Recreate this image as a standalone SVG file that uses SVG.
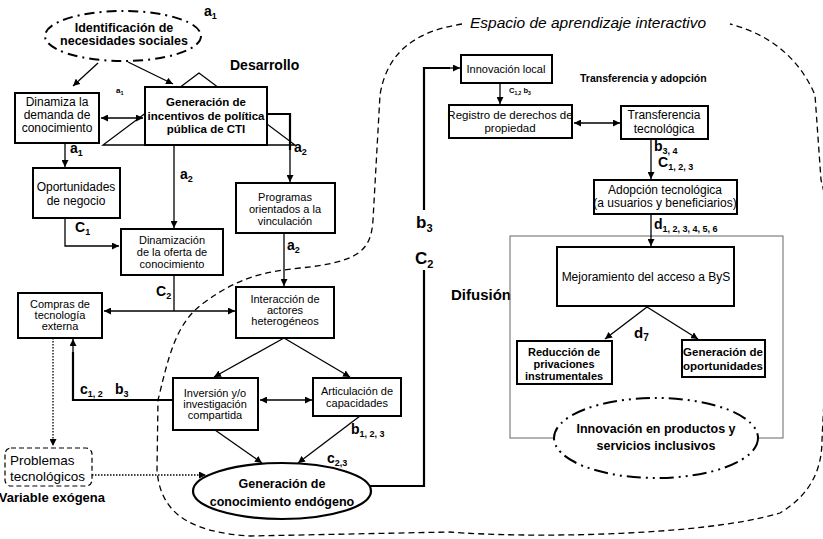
<svg xmlns="http://www.w3.org/2000/svg" width="823" height="539" viewBox="0 0 823 539">
<style>
text{font-family:"Liberation Sans",Arial,sans-serif;fill:#000}
.t{font-size:12px;text-anchor:middle}
.s{font-size:11px;text-anchor:middle}
.tb{font-size:11.5px;text-anchor:middle;font-weight:bold}
.lbl{font-size:14px;font-weight:bold}
.box{fill:#fff;stroke:#000;stroke-width:2}
.ln{stroke:#000;stroke-width:1.3;fill:none}
.thick{stroke:#000;stroke-width:2.2;fill:none}
.dot{stroke:#000;stroke-width:1.3;fill:none;stroke-dasharray:1.5,1.5}
</style>
<defs>
<marker id="ah" viewBox="0 0 8 8" refX="8" refY="4" markerWidth="7" markerHeight="7" markerUnits="userSpaceOnUse" orient="auto-start-reverse"><path d="M0,0 L8,4 L0,8 z" fill="#000"/></marker>
</defs>
<rect width="823" height="539" fill="#fff"/>

<!-- learning space boundary -->
<path d="M462 24 C425 30 388 45 380 95 L373 220 C371 250 360 262 300 268 C262 272 238 278 205 302 C175 322 168 360 158 400 L157 470 C160 510 185 532 250 536 L450 532 C520 538 700 537 780 513 C810 495 822 470 822 440 L826 360 L826 200 L821 180 L815 95 C800 60 772 35 730 24" fill="none" stroke="#000" stroke-width="1.3" stroke-dasharray="6,4"/>
<text x="470" y="28" style="font-size:15.5px;font-style:italic">Espacio de aprendizaje interactivo</text>

<!-- labels -->
<text x="230" y="70" class="lbl">Desarrollo</text>
<text x="580" y="82" style="font-size:10.5px;font-weight:bold">Transferencia y adopción</text>
<text x="451" y="300" style="font-size:15px;font-weight:bold">Difusión</text>
<text x="105" y="502" style="font-size:13px;font-weight:bold" text-anchor="end">Variable exógena</text>

<!-- Difusion frame -->
<rect x="510" y="236" width="273" height="202" fill="none" stroke="#666" stroke-width="1"/>

<!-- connectors -->
<g id="connectors">
<path class="ln" d="M98 63 L73 86" marker-end="url(#ah)"/>
<path class="ln" d="M128 62 L173 84" marker-end="url(#ah)"/>
<path class="ln" d="M101 118 L143 118" marker-start="url(#ah)" marker-end="url(#ah)"/>
<path class="ln" d="M65 143 V167" marker-end="url(#ah)"/>
<path class="ln" d="M65 218 V246 H119" marker-end="url(#ah)"/>
<path class="ln" d="M174 145 V228" marker-end="url(#ah)"/>
<path class="thick" d="M267 114 H290 V150"/>
<path class="ln" d="M290 150 V182" marker-end="url(#ah)"/>
<path class="ln" d="M174 275 V311"/>
<path class="ln" d="M104 311 H235" marker-start="url(#ah)" marker-end="url(#ah)"/>
<path class="ln" d="M284 233 V286" marker-end="url(#ah)"/>
<path class="ln" d="M284 338 L214 377" marker-end="url(#ah)"/>
<path class="ln" d="M284 338 L350 377" marker-end="url(#ah)"/>
<path class="ln" d="M260 400 H312" marker-start="url(#ah)" marker-end="url(#ah)"/>
<path class="thick" d="M173 400 H73 V352"/>
<path class="ln" d="M73 352 V339" marker-end="url(#ah)"/>
<path class="ln" d="M215 430 L262 463" marker-end="url(#ah)"/>
<path class="ln" d="M360 416 L298 463" marker-end="url(#ah)"/>
<path class="dot" d="M53 338 V446" marker-end="url(#ah)"/>
<path class="dot" d="M92 475 H206" marker-end="url(#ah)"/>
<path class="thick" d="M367 486 H424 V68 H450"/>
<path class="ln" d="M450 68 H460" marker-end="url(#ah)"/>
<path class="ln" d="M500 83 V104" marker-end="url(#ah)"/>
<path class="ln" d="M574 123 H620" marker-start="url(#ah)" marker-end="url(#ah)"/>
<path class="ln" d="M651 139 V179" marker-end="url(#ah)"/>
<path class="ln" d="M651 214 V246" marker-end="url(#ah)"/>
<path class="ln" d="M647 307 L605 339" marker-end="url(#ah)"/>
<path class="ln" d="M647 307 L698 339" marker-end="url(#ah)"/>
</g>

<!-- connector labels -->
<g id="labels">
<text x="204" y="16" class="lbl">a<tspan font-size="9" dy="3">1</tspan></text>
<text x="116" y="93" style="font-size:8px;font-weight:bold">a<tspan font-size="5.5" dy="2">1</tspan></text>
<text x="70" y="153" class="lbl">a<tspan font-size="9" dy="3">1</tspan></text>
<text x="180" y="179" class="lbl">a<tspan font-size="9" dy="3">2</tspan></text>
<text x="294" y="152" class="lbl">a<tspan font-size="9" dy="3">2</tspan></text>
<text x="75" y="232" class="lbl">C<tspan font-size="9" dy="3">1</tspan></text>
<text x="287" y="250" class="lbl">a<tspan font-size="9" dy="3">2</tspan></text>
<text x="156" y="296" class="lbl">C<tspan font-size="9" dy="3">2</tspan></text>
<text x="80" y="394" class="lbl">c<tspan font-size="9" dy="3">1, 2</tspan></text>
<text x="115" y="394" class="lbl">b<tspan font-size="9" dy="3">3</tspan></text>
<text x="351" y="434" class="lbl">b<tspan font-size="9" dy="3">1, 2, 3</tspan></text>
<text x="327" y="463" class="lbl">c<tspan font-size="9" dy="3">2,3</tspan></text>
<rect x="414" y="210" width="20" height="60" fill="#fff"/>
<text x="416" y="228" style="font-size:17px;font-weight:bold">b<tspan font-size="11" dy="4">3</tspan></text>
<text x="415" y="264" style="font-size:17px;font-weight:bold">C<tspan font-size="11" dy="4">2</tspan></text>
<text x="509" y="93" style="font-size:7.5px;font-weight:bold">C<tspan font-size="5" dy="1.5">1,2</tspan><tspan dy="-1.5"> b</tspan><tspan font-size="5" dy="1.5">3</tspan></text>
<text x="654" y="151" class="lbl">b<tspan font-size="9" dy="3">3, 4</tspan></text>
<text x="658" y="167" class="lbl">C<tspan font-size="9" dy="3">1, 2, 3</tspan></text>
<text x="654" y="229" class="lbl">d<tspan font-size="9" dy="3">1, 2, 3, 4, 5, 6</tspan></text>
<text x="634" y="338" style="font-size:15px;font-weight:bold">d<tspan font-size="10" dy="3">7</tspan></text>
</g>

<!-- nodes -->
<g id="n-identificacion">
<ellipse cx="123" cy="36" rx="78" ry="25" fill="#fff" stroke="#000" stroke-width="2" stroke-dasharray="10,5,2,5"/>
<text x="124" y="32" class="tb" style="font-size:12.5px">Identificación de</text>
<text x="124" y="45" class="tb" style="font-size:12.5px">necesidades sociales</text>
</g>
<g id="n-dinamiza">
<rect x="15" y="93" width="84" height="50" class="box"/>
<text x="57" y="106" class="t">Dinamiza la</text>
<text x="57" y="119" class="t">demanda de</text>
<text x="57" y="132" class="t">conocimiento</text>
</g>
<g id="n-incentivos">
<polygon points="199,73 103,145 295,145" fill="none" stroke="#000" stroke-width="1.3"/>
<rect x="145" y="87" width="122" height="58" class="box"/>
<text x="206" y="106" class="tb">Generación de</text>
<text x="206" y="120" class="tb">incentivos de política</text>
<text x="206" y="133" class="tb">pública de CTI</text>
</g>
<g id="n-oportunidades">
<rect x="33" y="168" width="87" height="50" class="box"/>
<text x="76" y="191" class="t">Oportunidades</text>
<text x="76" y="205" class="t">de negocio</text>
</g>
<g id="n-dinamizacion">
<rect x="121" y="229" width="102" height="46" class="box"/>
<text x="172" y="244" class="s">Dinamización</text>
<text x="172" y="256" class="s">de la oferta de</text>
<text x="172" y="268" class="s">conocimiento</text>
</g>
<g id="n-programas">
<rect x="236" y="183" width="99" height="50" class="box"/>
<text x="285" y="201" class="s">Programas</text>
<text x="285" y="213" class="s">orientados a la</text>
<text x="285" y="225" class="s">vinculación</text>
</g>
<g id="n-compras">
<rect x="18" y="293" width="84" height="45" class="box"/>
<text x="60" y="308" class="s">Compras de</text>
<text x="60" y="319" class="s">tecnología</text>
<text x="60" y="330" class="s">externa</text>
</g>
<g id="n-interaccion">
<rect x="236" y="287" width="98" height="51" class="box"/>
<text x="285" y="303" class="s">Interacción de</text>
<text x="285" y="314" class="s">actores</text>
<text x="285" y="325" class="s">heterogéneos</text>
</g>
<g id="n-inversion">
<rect x="173" y="378" width="85" height="52" class="box"/>
<text x="215" y="397" class="s">Inversión y/o</text>
<text x="215" y="408" class="s">investigación</text>
<text x="215" y="419" class="s">compartida</text>
</g>
<g id="n-articulacion">
<rect x="313" y="378" width="88" height="38" class="box"/>
<text x="357" y="395" class="s">Articulación de</text>
<text x="357" y="407" class="s">capacidades</text>
</g>
<g id="n-problemas">
<rect x="5" y="448" width="87" height="38" rx="6" fill="#fff" stroke="#000" stroke-width="1.2" stroke-dasharray="5,3"/>
<text x="10" y="465" style="font-size:13.5px">Problemas</text>
<text x="10" y="481" style="font-size:13.5px">tecnológicos</text>
</g>
<g id="n-endogeno">
<ellipse cx="282" cy="491" rx="89" ry="28" fill="#fff" stroke="#000" stroke-width="2.2"/>
<text x="282" y="488" class="tb" style="font-size:12.5px">Generación de</text>
<text x="282" y="506" class="tb" style="font-size:12.5px">conocimiento endógeno</text>
</g>
<g id="n-innovacion-local">
<rect x="461" y="55" width="91" height="28" class="box"/>
<text x="506" y="73" class="s">Innovación local</text>
</g>
<g id="n-registro">
<rect x="449" y="105" width="123" height="33" class="box"/>
<text x="510" y="119" class="t" style="font-size:11.5px">Registro de derechos de</text>
<text x="510" y="132" class="t" style="font-size:11.5px">propiedad</text>
</g>
<g id="n-transferencia">
<rect x="621" y="106" width="87" height="33" class="box"/>
<text x="664" y="119" class="t">Transferencia</text>
<text x="664" y="133" class="t">tecnológica</text>
</g>
<g id="n-adopcion">
<rect x="594" y="180" width="143" height="34" class="box"/>
<text x="665" y="194" class="t">Adopción tecnológica</text>
<text x="665" y="207" class="t">(a usuarios y beneficiarios)</text>
</g>
<g id="n-mejoramiento">
<rect x="557" y="247" width="177" height="59" class="box"/>
<text x="646" y="281" class="t">Mejoramiento del acceso a ByS</text>
</g>
<g id="n-reduccion">
<rect x="517" y="341" width="95" height="43" class="box"/>
<text x="564" y="356" class="tb" style="font-size:11px">Reducción de</text>
<text x="564" y="368" class="tb" style="font-size:11px">privaciones</text>
<text x="564" y="380" class="tb" style="font-size:11px">instrumentales</text>
</g>
<g id="n-gen-oportunidades">
<rect x="682" y="340" width="83" height="37" class="box"/>
<text x="723" y="356" class="tb">Generación de</text>
<text x="723" y="370" class="tb">oportunidades</text>
</g>
<g id="n-innovacion-inclusiva">
<ellipse cx="656" cy="438" rx="102" ry="40" fill="#fff" stroke="#000" stroke-width="2" stroke-dasharray="14,5,2,5,2,5"/>
<text x="656" y="433" class="tb" style="font-size:12.5px">Innovación en productos y</text>
<text x="656" y="450" class="tb" style="font-size:12.5px">servicios inclusivos</text>
</g>
</svg>
